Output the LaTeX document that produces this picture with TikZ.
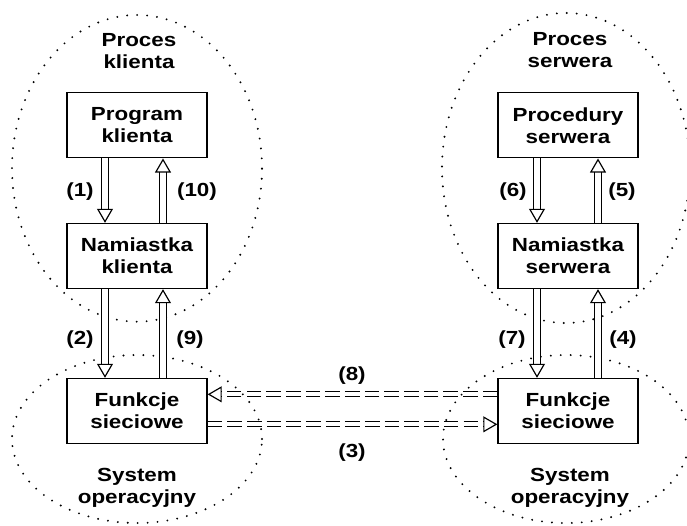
\documentclass[tikz,border=0pt]{standalone}
\usepackage{fontspec}
\setmainfont{Liberation Sans}[FakeStretch=1.18]
\usetikzlibrary{arrows.meta}

\begin{document}
\begin{tikzpicture}[
  every node/.style={font=\bfseries\fontsize{16.2}{18.8}\selectfont,align=center},
  box/.style={draw,line width=1.1pt,minimum width=4.2cm,minimum height=1.95cm},
  area/.style={line width=1.8pt,line cap=round,dash pattern=on 0pt off 8.5pt},
  call/.style={double,double distance=4.5pt,line width=1pt,
    -{Triangle[open,length=12pt,width=13.6pt,line width=1pt]}},
  net/.style={call,double distance=3.3pt,dash pattern=on 12.5pt off 4.3pt}
]
\useasboundingbox (0,0) rectangle (20.61,15.75);

% Process and system areas
\draw[area] (4.11,10.7) ellipse (3.75 and 4.6);
\draw[area] (4.11,2.58) ellipse (3.75 and 2.52);
\draw[area] (16.98,10.71) ellipse (3.72 and 4.65);
\draw[area] (16.98,2.58) ellipse (3.69 and 2.52);

% Area titles
\node (pkl) at (4.17,14.22) {Proces\\klienta};
\node (psr) at (17.1,14.25) {Proces\\serwera};
\node (sysl) at (4.11,1.11) {System\\operacyjny};
\node (sysr) at (17.1,1.11) {System\\operacyjny};

% Client side
\node[box] (prog) at (4.11,11.99) {Program\\klienta};
\node[box] (nkl) at (4.11,8.07) {Namiastka\\klienta};
\node[box] (fkl) at (4.11,3.42) {Funkcje\\sieciowe};

% Server side
\node[box] (proc) at (17.04,11.99) {Procedury\\serwera};
\node[box] (nsr) at (17.04,8.07) {Namiastka\\serwera};
\node[box] (fsr) at (17.04,3.42) {Funkcje\\sieciowe};

% Calls down and returns up
\draw[call] ([xshift=-0.96cm]prog.south) -- ([xshift=-0.96cm]nkl.north);
\draw[call] ([xshift=0.78cm]nkl.north) -- ([xshift=0.78cm]prog.south);
\draw[call] ([xshift=-0.96cm]nkl.south) -- ([xshift=-0.96cm]fkl.north);
\draw[call] ([xshift=0.78cm]fkl.north) -- ([xshift=0.78cm]nkl.south);
\draw[call] ([xshift=-0.93cm]proc.south) -- ([xshift=-0.93cm]nsr.north);
\draw[call] ([xshift=0.9cm]nsr.north) -- ([xshift=0.9cm]proc.south);
\draw[call] ([xshift=-0.93cm]nsr.south) -- ([xshift=-0.93cm]fsr.north);
\draw[call] ([xshift=0.9cm]fsr.north) -- ([xshift=0.9cm]nsr.south);

% Network messages
\draw[net] ([yshift=0.5cm]fsr.west) -- ([yshift=0.5cm]fkl.east);
\draw[net] ([yshift=-0.4cm]fkl.east) -- ([yshift=-0.4cm]fsr.west);

% Step numbers
\node (n1) at (2.4,9.99) {(1)};
\node (n10) at (5.91,9.99) {(10)};
\node (n2) at (2.4,5.55) {(2)};
\node (n9) at (5.7,5.55) {(9)};
\node (n6) at (15.39,9.99) {(6)};
\node (n5) at (18.66,9.99) {(5)};
\node (n7) at (15.36,5.55) {(7)};
\node (n4) at (18.69,5.55) {(4)};
\node (n8) at (10.56,4.47) {(8)};
\node (n3) at (10.56,2.18) {(3)};
\end{tikzpicture}
\end{document}
